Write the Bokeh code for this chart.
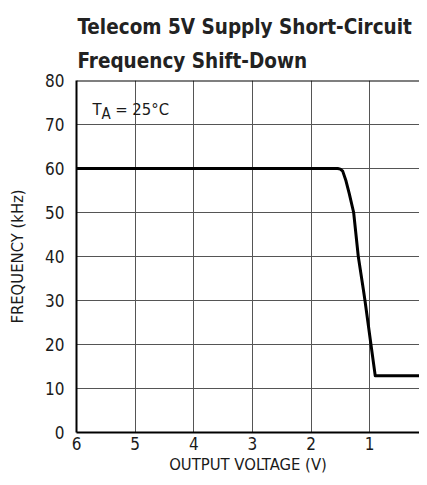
from bokeh.plotting import figure
from bokeh.models import Range1d, FixedTicker, Label, Span, Title
from bokeh.embed import file_html
from bokeh.resources import INLINE

# ---- data ----
title_line1 = "Telecom 5V Supply Short-Circuit"
title_line2 = "Frequency Shift-Down"
x_axis_label = "OUTPUT VOLTAGE (V)"
y_axis_label = "FREQUENCY (kHz)"
x_ticks = [0, 1, 2, 3, 4, 5, 6]
y_ticks = [0, 10, 20, 30, 40, 50, 60, 70, 80]
voltage = [6.0, 1.545, 1.50, 1.46, 1.404, 1.348, 1.273, 1.194, 1.109, 1.08, 0.978, 0.905, 0.0]
frequency = [60.0, 60.0, 59.85, 59.4, 57.2, 54.3, 50.0, 40.0, 32.6, 30.0, 20.0, 12.9, 12.9]
annot_main = "T"
annot_sub = "A"
annot_rest = "= 25°C"

FONT = "DejaVu Sans Condensed"
TXT = "#1a1a1a"

p = figure(width=419, height=477, output_backend="svg", toolbar_location=None,
           x_range=Range1d(6, 0.15), y_range=Range1d(0, 80),
           min_border_left=76, min_border_right=0, min_border_top=80, min_border_bottom=45)
p.background_fill_color = "white"
p.border_fill_color = "white"
p.outline_line_color = None

# two heading lines (inner line added first)
p.add_layout(Title(text=title_line2, align="left", offset=1, text_font=FONT, text_font_size="20.5px",
                   text_font_style="bold", text_color="#222222", standoff=16), "above")
p.add_layout(Title(text=title_line1, align="left", offset=1, text_font=FONT, text_font_size="20.5px",
                   text_font_style="bold", text_color="#222222", standoff=0), "above")

# axes
p.xaxis.ticker = FixedTicker(ticks=x_ticks)
p.yaxis.ticker = FixedTicker(ticks=y_ticks)
for ax in (p.xaxis[0], p.yaxis[0]):
    ax.major_tick_in = 0
    ax.major_tick_out = 0
    ax.minor_tick_in = 0
    ax.minor_tick_out = 0
    ax.axis_line_color = "black"
    ax.axis_line_width = 2
    ax.major_label_text_font = FONT
    ax.major_label_text_font_size = "17px"
    ax.major_label_text_color = TXT
    ax.axis_label_text_font = FONT
    ax.axis_label_text_font_size = "16.5px"
    ax.axis_label_text_font_style = "normal"
    ax.axis_label_text_color = TXT
p.xaxis.axis_label = x_axis_label
p.yaxis.axis_label = y_axis_label
p.xaxis.major_label_standoff = 4
p.xaxis.axis_label_standoff = 2
p.yaxis.major_label_standoff = 12
p.yaxis.axis_label_standoff = 15

# grid
p.xgrid.ticker = FixedTicker(ticks=x_ticks)
p.ygrid.ticker = FixedTicker(ticks=y_ticks)
for g in (p.xgrid[0], p.ygrid[0]):
    g.grid_line_color = "#555555"
    g.grid_line_width = 1
    g.grid_line_alpha = 1.0

p.add_layout(Span(location=80, dimension="width", line_color="black", line_width=2))

# curve
p.line(voltage, frequency, line_color="black", line_width=3, line_join="round")

# annotation T_A = 25°C
p.add_layout(Label(x=5.727, y=73.4, text=annot_main, text_font=FONT, text_font_size="16.5px",
                   text_color=TXT, text_baseline="alphabetic"))
p.add_layout(Label(x=5.575, y=72.4, text=annot_sub, text_font=FONT, text_font_size="15px",
                   text_color=TXT, text_baseline="alphabetic"))
p.add_layout(Label(x=5.34, y=73.4, text=annot_rest, text_font=FONT, text_font_size="16.5px",
                   text_color=TXT, text_baseline="alphabetic"))

open("out.html", "w").write(file_html(p, INLINE))
